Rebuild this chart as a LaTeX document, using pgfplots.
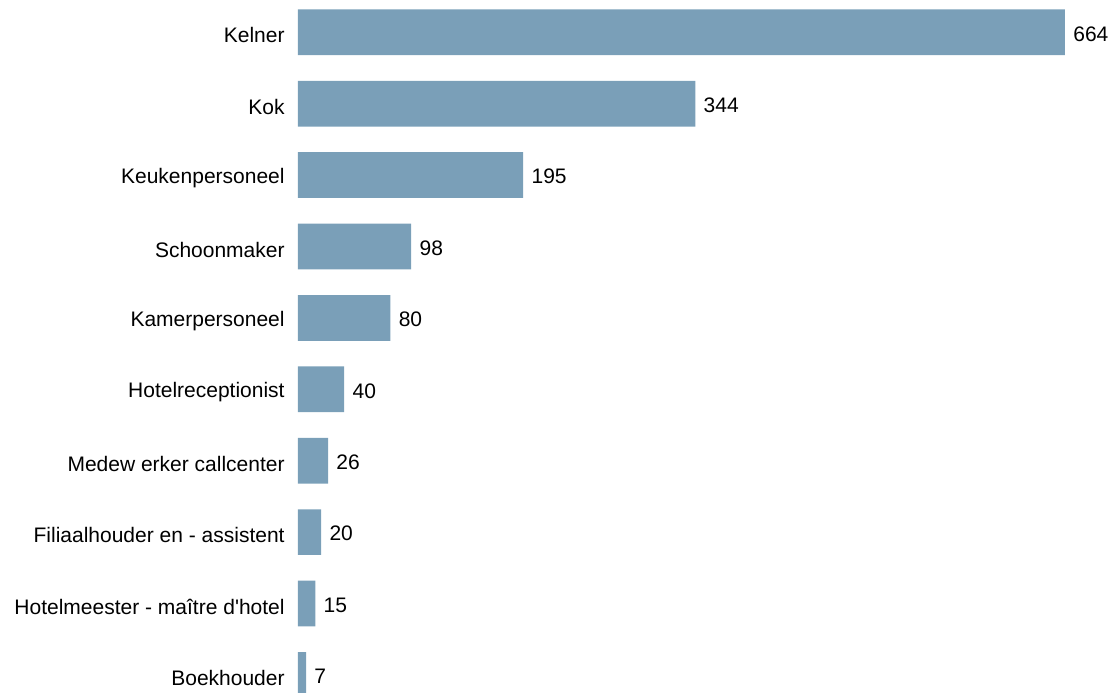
\documentclass[border=0pt]{standalone}
\usepackage{fontspec}
\setmainfont{Liberation Sans}
\usepackage{pgfplots}
\pgfplotsset{compat=1.18}
\definecolor{barblue}{RGB}{122,159,184}
\begin{document}
\begin{tikzpicture}
\begin{axis}[
  scale only axis,
  width=409pt, height=346.5pt,
  xbar, bar width=0.64,
  xmin=0, xmax=708.2,
  ymin=-0.452, ymax=9.253,
  y dir=reverse,
  axis line style={draw=none},
  tick style={draw=none},
  xtick=\empty,
  ytick={0,...,9},
  yticklabels={Kelner,Kok,Keukenpersoneel,Schoonmaker,Kamerpersoneel,Hotelreceptionist,Medew erker callcenter,Filiaalhouder en - assistent,Hotelmeester - maître d\textquotesingle hotel,Boekhouder},
  major tick length=0pt,
  /pgf/number format/assume math mode=true,
  yticklabel style={font=\fontsize{10.5}{12}\selectfont, inner sep=0pt, anchor=east, xshift=-6.5pt, yshift=-1.5pt},
  nodes near coords,
  every node near coord/.append style={font=\fontsize{10.5}{12}\selectfont, inner sep=0pt, anchor=west, xshift=4pt, yshift=-0.8pt, text=black},
]
\addplot[fill=barblue, draw=none] coordinates {
(664,0) (344,1) (195,2) (98,3) (80,4) (40,5) (26,6) (20,7) (15,8) (7,9)
};
\end{axis}
\pgfresetboundingbox
\path ([xshift=-149pt]current axis.south west) rectangle (current axis.north east);
\end{tikzpicture}
\end{document}
